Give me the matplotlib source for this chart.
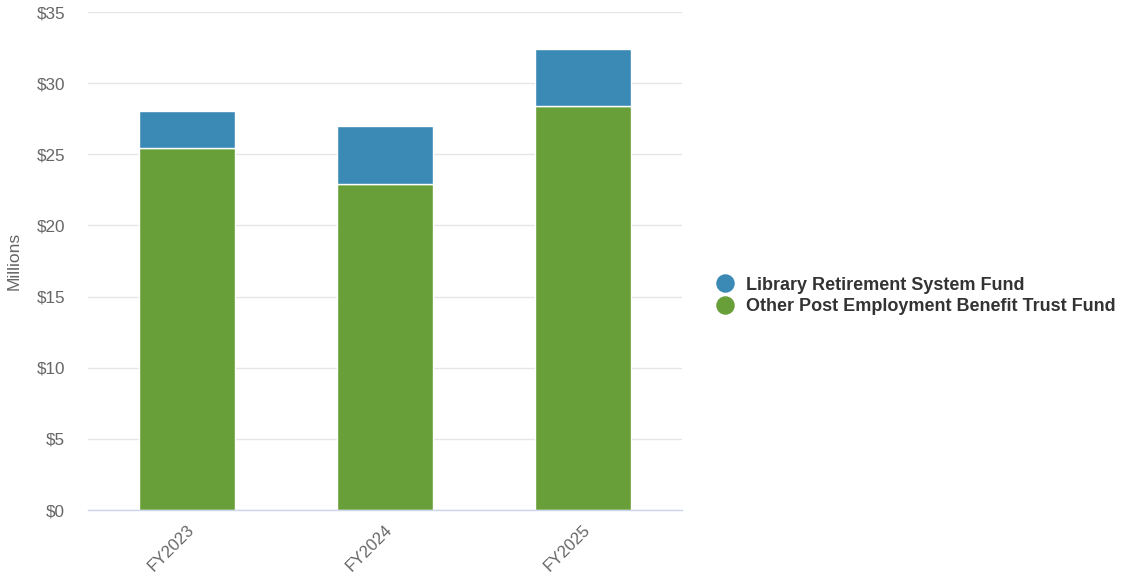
import matplotlib
matplotlib.use("Agg")
import matplotlib.pyplot as plt
from matplotlib.lines import Line2D

plt.rcParams['font.family'] = ['Liberation Sans', 'DejaVu Sans']

categories = ["FY2023", "FY2024", "FY2025"]
opeb = [25.45, 22.92, 28.40]          # Other Post Employment Benefit Trust Fund
library = [2.60, 4.06, 4.01]          # Library Retirement System Fund
yticks = [0, 5, 10, 15, 20, 25, 30, 35]
ytick_labels = ["$0", "$5", "$10", "$15", "$20", "$25", "$30", "$35"]

green = "#689f38"
blue = "#3b8ab5"

fig = plt.figure(figsize=(11.23, 5.77), dpi=100)
ax = fig.add_axes([88/1123, (577-510)/577, (682-88)/1123, (510-12)/577])

x = range(len(categories))
ax.bar(x, opeb, width=0.485, color=green, edgecolor="white", linewidth=1, zorder=3)
ax.bar(x, library, bottom=opeb, width=0.485, color=blue, edgecolor="white", linewidth=1, zorder=3)

ax.set_xlim(-0.5, 2.5)
ax.set_ylim(0, 35)
ax.set_yticks(yticks)
ax.set_yticklabels(ytick_labels, fontsize=12.3, color="#666666")
ax.set_xticks(list(x))
ax.set_xticklabels(categories, fontsize=12, color="#666666", rotation=45,
                   ha="right", va="top", rotation_mode="anchor")
ax.tick_params(axis="both", length=0)
ax.tick_params(axis="y", pad=16.5)
ax.tick_params(axis="x", pad=9)
ax.grid(axis="y", color="#e6e6e6", linewidth=1, zorder=0)
for s in ["top", "right", "left"]:
    ax.spines[s].set_visible(False)
ax.spines["bottom"].set_color("#ccd6eb")
ax.spines["bottom"].set_linewidth(1)
ax.spines["bottom"].set_zorder(4)
ax.set_ylabel("Millions", fontsize=12.5, color="#666666")
ax.yaxis.set_label_coords(-66/594, 0.5)

handles = [Line2D([], [], marker="o", linestyle="", markersize=12.3, color=blue),
           Line2D([], [], marker="o", linestyle="", markersize=12.3, color=green)]
labels = ["Library Retirement System Fund", "Other Post Employment Benefit Trust Fund"]
leg = fig.legend(handles, labels, loc="center left", bbox_to_anchor=(698/1123, 1-296/577),
                 frameon=False, handletextpad=0.55, labelspacing=0.25, handlelength=1.2,
                 prop={"weight": "bold", "size": 13})
for t in leg.get_texts():
    t.set_color("#333333")

fig.savefig("out.png", dpi=100)
